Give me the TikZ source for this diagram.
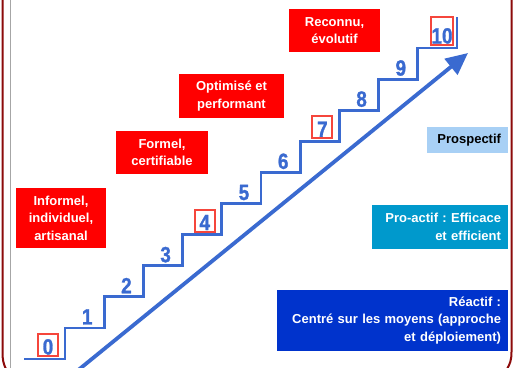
\documentclass[tikz,border=0pt]{standalone}
\usepackage{fontspec}
\setmainfont{Liberation Sans}
\newfontfamily\numfont[FakeStretch=0.86, BoldFeatures={FakeBold=1.2}]{Liberation Sans}
\frenchspacing
\usetikzlibrary{arrows.meta}
\definecolor{stairblue}{RGB}{58,106,208}
\definecolor{boxred}{RGB}{255,0,0}
\definecolor{numframe}{RGB}{245,70,60}
\definecolor{frame}{RGB}{140,10,10}
\definecolor{lightblue}{RGB}{168,208,245}
\definecolor{midblue}{RGB}{0,153,204}
\definecolor{darkblue}{RGB}{0,51,204}
\tikzset{
  lvl/.style={fill=boxred, text=white, font=\fontsize{13}{17.5}\selectfont\bfseries, align=center, inner sep=0pt},
  side/.style={font=\fontsize{13}{17.5}\selectfont\bfseries, align=right, inner ysep=0pt, inner xsep=7pt},
  num/.style={text=stairblue, font=\numfont\fontsize{22}{22}\selectfont\bfseries, anchor=base, inner sep=0pt},
  boxnum/.style={text=stairblue, font=\numfont\fontsize{22}{22}\selectfont\bfseries, anchor=south, draw=numframe, line width=2pt, fill=white, inner xsep=0.5pt, inner ysep=1.5pt, text height=19pt, text depth=0pt, minimum width=20pt},
  stair/.style={draw=stairblue, line width=2.8pt},
}
\begin{document}
\begin{tikzpicture}[x=1pt, y=-1pt]
\useasboundingbox (0,0) rectangle (517,367);
\clip (0,0) rectangle (517,367);
% frame lines
\draw[frame, line width=2pt] (2.5,-2) -- (2.5,352) .. controls (2.5,360) and (3.5,364) .. (6,369);
\draw[gray!70, line width=1.5pt] (10.5,-2) -- (10.5,369);
\draw[frame, line width=2pt] (511.5,-2) -- (511.5,352) .. controls (511.5,360) and (510,364) .. (507,369);
% staircase
\draw[stair] (24,359) -- (65,359) -- (65,327.9) -- (104.2,327.9) -- (104.2,296.8) -- (143.4,296.8) -- (143.4,265.7) -- (182.6,265.7) -- (182.6,234.6) -- (221.8,234.6) -- (221.8,203.5) -- (261,203.5) -- (261,172.4) -- (300.2,172.4) -- (300.2,141.3) -- (339.4,141.3) -- (339.4,110.2) -- (378.6,110.2) -- (378.6,79.1) -- (417.8,79.1) -- (417.8,48) -- (457,48) -- (457,17);
% arrow
\coordinate (astart) at (66,380);
\coordinate (aend) at (468,53);
\draw[stairblue, line width=3.8pt, -{Triangle[length=22pt,width=20pt]}] (astart) -- (aend);
% numbers
\node[boxnum] (n0) at (48,357) {0};
\node[num] (n1) at (87.2,324.4) {1};
\node[num] (n2) at (126.4,293.3) {2};
\node[num] (n3) at (165.6,262.2) {3};
\node[boxnum] (n4) at (204.8,232.6) {4};
\node[num] (n5) at (244,200) {5};
\node[num] (n6) at (283.2,168.9) {6};
\node[boxnum] (n7) at (322.4,139.3) {7};
\node[num] (n8) at (361.6,106.7) {8};
\node[num] (n9) at (400.8,75.6) {9};
\node[boxnum, text height=25pt, minimum width=22pt] (n10) at (442,46) {10};
% level boxes
\node[lvl, minimum width=90pt, minimum height=60pt] (l1) at (61,218) {Informel,\\individuel,\\artisanal};
\node[lvl, minimum width=92pt, minimum height=43pt] (l2) at (162,152.5) {Formel,\\certifiable};
\node[lvl, minimum width=105pt, minimum height=44pt] (l3) at (231.5,96) {Optimisé et\\performant};
\node[lvl, minimum width=91pt, minimum height=43pt] (l4) at (334.5,30.5) {Reconnu,\\évolutif};
% side boxes
\node[side, fill=lightblue, text=black, text width=67pt, minimum height=26pt] (s1) at (467.5,140) {Prospectif};
\node[side, fill=midblue, text=white, text width=122pt, minimum height=44pt] (s2) at (440,227) {Pro-actif : Efficace\\et efficient};
\node[side, fill=darkblue, text=white, text width=217pt, minimum height=61pt] (s3) at (392.5,320.5) {Réactif :\\Centré sur les moyens (approche\\et déploiement)};
\end{tikzpicture}
\end{document}
